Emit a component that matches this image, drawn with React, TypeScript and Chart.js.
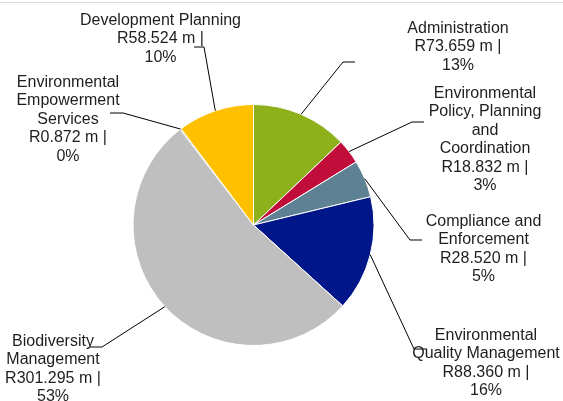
import React, { useEffect, useRef } from "react";
import { Chart, registerables } from "chart.js";

Chart.register(...registerables);

const categories = [
  "Administration",
  "Environmental Policy, Planning and Coordination",
  "Compliance and Enforcement",
  "Environmental Quality Management",
  "Biodiversity Management",
  "Environmental Empowerment Services",
  "Development Planning",
];
const values = [73.659, 18.832, 28.52, 88.36, 301.295, 0.872, 58.524];
const nameLines = [
  ["Administration"],
  ["Environmental", "Policy, Planning", "and", "Coordination"],
  ["Compliance and", "Enforcement"],
  ["Environmental", "Quality Management"],
  ["Biodiversity", "Management"],
  ["Environmental", "Empowerment", "Services"],
  ["Development Planning"],
];
const colors = ["#8DB01B", "#C00D3A", "#5E8294", "#001689", "#BFBFBF", "#7F7F7F", "#FFC000"];

// layout: label anchor (center x, first baseline y) and leader elbow / end points
const labelPos = [
  { x: 458, y: 33 },
  { x: 485, y: 98 },
  { x: 483.5, y: 226 },
  { x: 486, y: 340 },
  { x: 53, y: 346 },
  { x: 68, y: 87 },
  { x: 160.5, y: 25 },
];
const elbows = [
  [343, 62, 355, 62],
  [412, 122, 424, 122],
  [410, 240, 422, 240],
  [414, 349, 427, 349],
  [102, 347, 90, 347],
  [123, 113, 110, 113],
  [204, 47, 194, 47],
];
const LINE_H = 18.4;
const FONT = "16px 'Liberation Sans', Arial, sans-serif";

const labelPlugin = {
  id: "pieLabels",
  afterDraw(chart: any) {
    const ctx = chart.ctx;
    const total = values.reduce((a, b) => a + b, 0);
    ctx.save();
    // top frame line
    ctx.fillStyle = "#D9D9D9";
    ctx.fillRect(0, 2, chart.width, 1);
    const meta = chart.getDatasetMeta(0);
    meta.data.forEach((arc: any, i: number) => {
      const p = arc.getProps(["x", "y", "startAngle", "endAngle", "outerRadius"], true);
      const mid = (p.startAngle + p.endAngle) / 2;
      const sx = p.x + Math.cos(mid) * p.outerRadius;
      const sy = p.y + Math.sin(mid) * p.outerRadius;
      const e = elbows[i];
      ctx.strokeStyle = "#000";
      ctx.lineWidth = 1;
      ctx.beginPath();
      ctx.moveTo(sx, sy);
      ctx.lineTo(e[0], e[1]);
      ctx.lineTo(e[2], e[3]);
      ctx.stroke();

      const lines = [
        ...nameLines[i],
        `R${values[i].toFixed(3)} m |`,
        `${Math.round((values[i] / total) * 100)}%`,
      ];
      ctx.font = FONT;
      ctx.fillStyle = "#1E1E1E";
      ctx.textAlign = "center";
      ctx.textBaseline = "alphabetic";
      lines.forEach((t, k) => {
        ctx.fillText(t, labelPos[i].x, labelPos[i].y + k * LINE_H);
      });
    });
    ctx.restore();
  },
};

export default function App() {
  const ref = useRef<HTMLCanvasElement | null>(null);
  useEffect(() => {
    if (!ref.current) return;
    const chart = new Chart(ref.current, {
      type: "pie",
      data: {
        labels: categories,
        datasets: [
          {
            data: values,
            backgroundColor: colors,
            borderColor: "#FFFFFF",
            borderWidth: 1,
          },
        ],
      },
      options: {
        responsive: false,
        animation: false,
        layout: { padding: { left: 132.5, right: 188.5, top: 104, bottom: 55 } },
        plugins: {
          legend: { display: false },
          tooltip: { enabled: false },
        },
      },
      plugins: [labelPlugin],
    });
    return () => chart.destroy();
  }, []);
  return (
    <div style={{ position: "absolute", left: 0, top: 0, width: 563, height: 401, background: "#fff" }}>
      <canvas ref={ref} width={563} height={401} style={{ display: "block" }} />
    </div>
  );
}
